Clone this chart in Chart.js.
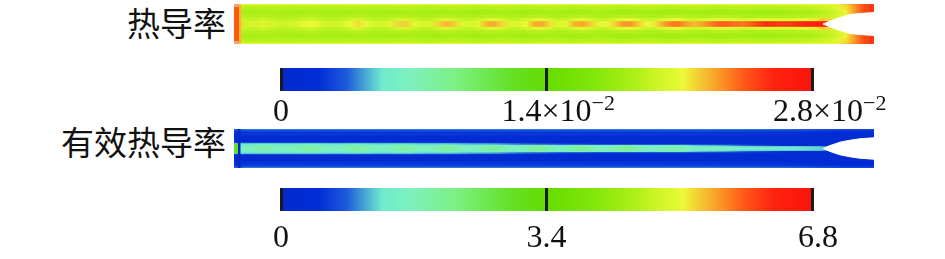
<!DOCTYPE html>
<html>
<head>
<meta charset="utf-8">
<script src="https://cdn.jsdelivr.net/npm/chart.js@4"></script>
<style>
  html, body { margin: 0; padding: 0; background: #fff; }
  body { position: relative; width: 945px; height: 259px; overflow: hidden; }
  canvas { position: absolute; }
  .field { filter: blur(0.6px); }
  .name { position: absolute; right: 719px; font: 33px "Noto Sans CJK SC", serif; line-height: 40px; color: #111; white-space: nowrap; }
</style>
</head>
<body>
<div class="name" style="top:2px">热导率</div>
<div class="name" style="top:121px">有效热导率</div>
<canvas id="fieldOne" style="left:234px;top:4px"></canvas>
<canvas id="barOne" style="left:0;top:60px"></canvas>
<canvas id="fieldTwo" style="left:234px;top:129px"></canvas>
<canvas id="barTwo" style="left:0;top:180px"></canvas>
<script>
// colour bar, position 0-1 along the bar
const barPositions = [0, 0.07, 0.124, 0.19, 0.243, 0.33, 0.43, 0.5, 0.588, 0.67, 0.714, 0.757, 0.789, 0.82, 0.87, 0.926, 1];
const barColors = [
  [5, 40, 205], [0, 45, 215], [30, 90, 220], [110, 235, 205], [125, 240, 190], [125, 240, 130],
  [100, 225, 40], [100, 220, 0], [130, 230, 10], [175, 240, 25], [210, 245, 40], [235, 250, 55],
  [245, 200, 50], [250, 160, 40], [255, 90, 25], [255, 35, 15], [250, 20, 10]
];

const maxOne = 2.8;
const maxTwo = 6.8;
const ticksOne = [0, 1.4, 2.8];
const ticksTwo = [0, 3.4, 6.8];
const labelsOne = ["0", "1.4×10", "2.8×10"];
const labelsTwo = ["0", "3.4", "6.8"];
const powerOne = ["", "−2", "−2"];
const powerTwo = ["", "", ""];

// column centres along the channel, 640 wide
const columns = [
  4, 12, 20, 28, 36, 44, 52, 60, 68, 76, 84, 92, 100, 108, 116, 124, 132, 140, 148, 156,
  164, 172, 180, 188, 196, 204, 212, 220, 228, 236, 244, 252, 260, 268, 276, 284, 292, 300, 308, 316,
  324, 332, 340, 348, 356, 364, 372, 380, 388, 396, 404, 412, 420, 428, 436, 444, 452, 460, 468, 476,
  484, 492, 500, 508, 516, 524, 532, 540, 548, 556, 564, 572, 580, 588, 596, 604, 612, 620, 628, 636
];

// thermal conductivity, units of 1e-2, rows from the centre line out to the wall
const rowEdgesOne = [0, 2.5, 5.5, 9, 14, 18, 20];
const oneCenter = [
  2.2, 2.0, 2.02, 2.05, 2.02, 1.98, 1.98, 2.0, 2.08, 2.12,
  2.06, 2.0, 1.98, 2.02, 2.12, 2.17, 2.1, 2.01, 2.0, 2.06,
  2.18, 2.2, 2.08, 2.01, 2.03, 2.18, 2.25, 2.2, 2.06, 2.02,
  2.08, 2.24, 2.28, 2.18, 2.04, 2.04, 2.12, 2.26, 2.28, 2.16,
  2.04, 2.08, 2.25, 2.29, 2.2, 2.08, 2.1, 2.18, 2.3, 2.32,
  2.22, 2.12, 2.14, 2.26, 2.36, 2.38, 2.3, 2.24, 2.28, 2.36,
  2.42, 2.44, 2.4, 2.38, 2.42, 2.5, 2.56, 2.54, 2.52, 2.53,
  2.56, 2.6, 2.62, 2.65, 2.6, 2.4, 2.3, 2.2, 2.2, 2.2
];
const oneInner = [
  1.98, 1.94, 1.95, 1.98, 1.96, 1.93, 1.93, 1.94, 1.97, 2.0,
  1.97, 1.93, 1.92, 1.94, 1.99, 2.02, 1.97, 1.93, 1.93, 1.96,
  2.02, 2.03, 1.97, 1.93, 1.94, 2.01, 2.05, 2.02, 1.95, 1.94,
  1.97, 2.05, 2.07, 2.01, 1.95, 1.95, 1.99, 2.07, 2.08, 2.01,
  1.95, 1.97, 2.05, 2.08, 2.03, 1.96, 1.97, 2.01, 2.08, 2.1,
  2.03, 1.97, 1.98, 2.03, 2.1, 2.12, 2.05, 2.0, 2.01, 2.05,
  2.08, 2.1, 2.06, 2.02, 2.03, 2.06, 2.08, 2.07, 2.06, 2.06,
  2.08, 2.1, 2.14, 2.2, 2.18, 2.12, 2.08, 2.06, 2.1, 2.2
];
const oneMiddle = [
  1.92, 1.89, 1.89, 1.9, 1.89, 1.88, 1.88, 1.88, 1.89, 1.9,
  1.89, 1.88, 1.88, 1.88, 1.89, 1.9, 1.89, 1.88, 1.87, 1.88,
  1.89, 1.9, 1.89, 1.87, 1.87, 1.88, 1.9, 1.89, 1.87, 1.87,
  1.88, 1.9, 1.9, 1.89, 1.87, 1.87, 1.88, 1.9, 1.91, 1.89,
  1.87, 1.87, 1.89, 1.91, 1.9, 1.87, 1.87, 1.88, 1.9, 1.91,
  1.89, 1.87, 1.87, 1.88, 1.9, 1.91, 1.89, 1.87, 1.87, 1.88,
  1.89, 1.9, 1.89, 1.87, 1.86, 1.87, 1.88, 1.88, 1.88, 1.88,
  1.89, 1.9, 1.92, 1.95, 1.97, 2.02, 2.12, 2.26, 2.36, 2.46
];
const oneOuter = [
  1.88, 1.84, 1.84, 1.85, 1.86, 1.85, 1.84, 1.83, 1.84, 1.85,
  1.85, 1.84, 1.83, 1.83, 1.84, 1.85, 1.85, 1.84, 1.82, 1.82,
  1.84, 1.85, 1.85, 1.83, 1.82, 1.82, 1.84, 1.85, 1.84, 1.82,
  1.81, 1.82, 1.84, 1.85, 1.84, 1.82, 1.81, 1.82, 1.84, 1.85,
  1.84, 1.82, 1.81, 1.82, 1.84, 1.85, 1.84, 1.82, 1.81, 1.81,
  1.83, 1.84, 1.83, 1.81, 1.8, 1.81, 1.83, 1.84, 1.83, 1.81,
  1.8, 1.81, 1.82, 1.83, 1.82, 1.8, 1.8, 1.81, 1.82, 1.83,
  1.84, 1.85, 1.87, 1.9, 1.94, 2.02, 2.14, 2.3, 2.44, 2.54
];
const oneUpper = [
  1.94, 1.9, 1.9, 1.91, 1.91, 1.91, 1.9, 1.9, 1.91, 1.91,
  1.91, 1.9, 1.9, 1.9, 1.91, 1.91, 1.91, 1.9, 1.9, 1.9,
  1.91, 1.92, 1.91, 1.9, 1.89, 1.9, 1.91, 1.92, 1.91, 1.9,
  1.89, 1.9, 1.91, 1.92, 1.91, 1.9, 1.89, 1.9, 1.91, 1.92,
  1.91, 1.9, 1.89, 1.9, 1.91, 1.92, 1.91, 1.9, 1.89, 1.9,
  1.91, 1.92, 1.91, 1.9, 1.89, 1.9, 1.91, 1.92, 1.91, 1.9,
  1.89, 1.9, 1.91, 1.92, 1.91, 1.9, 1.9, 1.9, 1.91, 1.92,
  1.92, 1.93, 1.95, 1.98, 2.0, 2.06, 2.16, 2.3, 2.44, 2.54
];
const oneEdge = [
  2.1, 2.04, 2.03, 2.03, 2.04, 2.04, 2.03, 2.03, 2.04, 2.04,
  2.03, 2.03, 2.02, 2.03, 2.04, 2.04, 2.03, 2.03, 2.02, 2.03,
  2.04, 2.04, 2.03, 2.02, 2.02, 2.03, 2.04, 2.04, 2.03, 2.02,
  2.02, 2.03, 2.04, 2.04, 2.03, 2.02, 2.02, 2.03, 2.04, 2.04,
  2.03, 2.02, 2.02, 2.03, 2.04, 2.04, 2.03, 2.02, 2.02, 2.03,
  2.04, 2.04, 2.03, 2.02, 2.02, 2.03, 2.04, 2.04, 2.03, 2.02,
  2.02, 2.03, 2.04, 2.04, 2.03, 2.02, 2.02, 2.03, 2.04, 2.04,
  2.04, 2.05, 2.06, 2.07, 2.1, 2.14, 2.2, 2.32, 2.44, 2.52
];
const rowsOne = [oneCenter, oneInner, oneMiddle, oneOuter, oneUpper, oneEdge];

// effective thermal conductivity
const rowEdgesTwo = [0, 2, 3.5, 5, 6, 13, 17, 19, 20];
const twoCenter = [
  1.6, 1.55, 1.72, 1.88, 1.75, 1.6, 1.6, 1.68, 1.88, 1.98,
  1.8, 1.62, 1.6, 1.68, 1.88, 1.98, 1.8, 1.62, 1.6, 1.72,
  1.92, 1.98, 1.8, 1.62, 1.64, 1.88, 2.02, 1.92, 1.7, 1.62,
  1.72, 1.98, 2.05, 1.85, 1.64, 1.64, 1.8, 2.04, 2.06, 1.82,
  1.64, 1.7, 2.0, 2.1, 1.9, 1.66, 1.68, 1.86, 2.05, 2.08,
  1.82, 1.62, 1.62, 1.72, 1.88, 1.88, 1.68, 1.55, 1.5, 1.55,
  1.6, 1.6, 1.5, 1.42, 1.4, 1.42, 1.42, 1.38, 1.32, 1.3,
  1.28, 1.26, 1.24, 1.2, 0.8, 0.4, 0.3, 0.3, 0.3, 0.3
];
const twoBand = [
  1.45, 1.42, 1.5, 1.6, 1.55, 1.45, 1.45, 1.48, 1.58, 1.62,
  1.52, 1.44, 1.43, 1.46, 1.58, 1.62, 1.52, 1.44, 1.43, 1.48,
  1.58, 1.62, 1.52, 1.44, 1.44, 1.55, 1.62, 1.58, 1.46, 1.42,
  1.45, 1.58, 1.6, 1.5, 1.42, 1.42, 1.48, 1.58, 1.6, 1.48,
  1.4, 1.42, 1.52, 1.58, 1.48, 1.38, 1.38, 1.45, 1.52, 1.52,
  1.4, 1.3, 1.28, 1.32, 1.36, 1.36, 1.28, 1.2, 1.15, 1.12,
  1.1, 1.05, 0.98, 0.9, 0.85, 0.8, 0.72, 0.62, 0.52, 0.46,
  0.42, 0.38, 0.35, 0.32, 0.3, 0.3, 0.3, 0.3, 0.3, 0.3
];
const twoRim = [
  1.3, 1.28, 1.3, 1.32, 1.32, 1.3, 1.28, 1.28, 1.3, 1.32,
  1.3, 1.28, 1.27, 1.27, 1.3, 1.3, 1.28, 1.26, 1.25, 1.26,
  1.28, 1.28, 1.26, 1.24, 1.22, 1.24, 1.24, 1.22, 1.18, 1.14,
  1.12, 1.12, 1.1, 1.04, 0.98, 0.92, 0.88, 0.85, 0.8, 0.72,
  0.65, 0.6, 0.58, 0.56, 0.5, 0.44, 0.4, 0.38, 0.36, 0.35,
  0.32, 0.3, 0.3, 0.29, 0.29, 0.29, 0.28, 0.28, 0.28, 0.28,
  0.28, 0.28, 0.28, 0.28, 0.28, 0.28, 0.28, 0.28, 0.28, 0.28,
  0.28, 0.28, 0.28, 0.28, 0.28, 0.28, 0.28, 0.28, 0.28, 0.28
];
const twoEdge = [
  0.8, 0.8, 0.8, 0.82, 0.82, 0.8, 0.8, 0.8, 0.8, 0.82,
  0.8, 0.78, 0.78, 0.78, 0.8, 0.8, 0.78, 0.76, 0.76, 0.76,
  0.76, 0.76, 0.74, 0.72, 0.7, 0.7, 0.7, 0.68, 0.66, 0.62,
  0.6, 0.58, 0.56, 0.52, 0.5, 0.46, 0.44, 0.42, 0.4, 0.38,
  0.36, 0.34, 0.33, 0.32, 0.31, 0.3, 0.3, 0.29, 0.29, 0.28,
  0.28, 0.28, 0.28, 0.28, 0.28, 0.28, 0.28, 0.28, 0.28, 0.28,
  0.28, 0.28, 0.28, 0.28, 0.28, 0.28, 0.28, 0.28, 0.28, 0.28,
  0.28, 0.28, 0.28, 0.28, 0.28, 0.28, 0.28, 0.28, 0.28, 0.28
];
const twoDark = [
  0.3, 0.26, 0.26, 0.26, 0.26, 0.26, 0.26, 0.26, 0.26, 0.26,
  0.26, 0.26, 0.26, 0.26, 0.26, 0.26, 0.26, 0.26, 0.26, 0.26,
  0.26, 0.26, 0.26, 0.26, 0.26, 0.26, 0.26, 0.26, 0.26, 0.26,
  0.26, 0.26, 0.26, 0.26, 0.26, 0.26, 0.26, 0.26, 0.26, 0.26,
  0.26, 0.26, 0.26, 0.26, 0.26, 0.26, 0.26, 0.26, 0.26, 0.26,
  0.26, 0.26, 0.26, 0.26, 0.26, 0.26, 0.26, 0.26, 0.26, 0.26,
  0.26, 0.26, 0.26, 0.26, 0.26, 0.26, 0.26, 0.26, 0.26, 0.26,
  0.26, 0.26, 0.26, 0.26, 0.26, 0.26, 0.26, 0.26, 0.28, 0.3
];
const twoOuter = [
  0.5, 0.55, 0.56, 0.56, 0.55, 0.55, 0.56, 0.56, 0.56, 0.55,
  0.55, 0.56, 0.56, 0.56, 0.55, 0.55, 0.56, 0.56, 0.56, 0.55,
  0.55, 0.56, 0.56, 0.56, 0.55, 0.55, 0.56, 0.56, 0.56, 0.55,
  0.55, 0.56, 0.56, 0.56, 0.55, 0.55, 0.56, 0.56, 0.56, 0.55,
  0.55, 0.56, 0.56, 0.56, 0.55, 0.55, 0.56, 0.56, 0.56, 0.55,
  0.55, 0.56, 0.56, 0.56, 0.55, 0.55, 0.56, 0.56, 0.56, 0.55,
  0.55, 0.54, 0.54, 0.54, 0.53, 0.53, 0.52, 0.52, 0.52, 0.5,
  0.5, 0.48, 0.46, 0.44, 0.42, 0.4, 0.38, 0.36, 0.36, 0.36
];
const twoWall = [
  0.7, 0.74, 0.75, 0.75, 0.75, 0.74, 0.74, 0.75, 0.75, 0.75,
  0.74, 0.74, 0.75, 0.75, 0.75, 0.74, 0.74, 0.75, 0.75, 0.75,
  0.74, 0.74, 0.75, 0.75, 0.75, 0.74, 0.74, 0.75, 0.75, 0.75,
  0.74, 0.74, 0.75, 0.75, 0.75, 0.74, 0.74, 0.75, 0.75, 0.75,
  0.74, 0.74, 0.75, 0.75, 0.75, 0.74, 0.74, 0.75, 0.75, 0.75,
  0.74, 0.74, 0.75, 0.75, 0.75, 0.74, 0.74, 0.75, 0.75, 0.75,
  0.74, 0.74, 0.73, 0.73, 0.72, 0.72, 0.7, 0.7, 0.7, 0.68,
  0.68, 0.66, 0.64, 0.62, 0.6, 0.58, 0.56, 0.55, 0.55, 0.55
];
const twoTop = [
  0.9, 1.0, 1.02, 1.02, 1.02, 1.02, 1.02, 1.02, 1.02, 1.02,
  1.02, 1.02, 1.02, 1.02, 1.02, 1.02, 1.02, 1.02, 1.02, 1.02,
  1.02, 1.02, 1.02, 1.02, 1.02, 1.02, 1.02, 1.02, 1.02, 1.02,
  1.02, 1.02, 1.02, 1.02, 1.02, 1.02, 1.02, 1.02, 1.02, 1.02,
  1.02, 1.02, 1.02, 1.02, 1.02, 1.02, 1.02, 1.02, 1.02, 1.02,
  1.02, 1.02, 1.02, 1.02, 1.02, 1.02, 1.02, 1.02, 1.02, 1.02,
  1.0, 1.0, 1.0, 1.0, 0.98, 0.98, 0.96, 0.96, 0.94, 0.94,
  0.92, 0.9, 0.88, 0.86, 0.84, 0.82, 0.8, 0.8, 0.8, 0.8
];
const rowsTwo = [twoCenter, twoBand, twoRim, twoEdge, twoDark, twoOuter, twoWall, twoTop];

// the open tip at the right hand end, half height against x
const notchX = [589, 596, 606, 616, 626, 640];
const notchOneHalf = [0, 3, 6.5, 9.5, 10.5, 11.5];
const notchTwoHalf = [0, 3, 6.5, 8.5, 10, 11];

// end cap at the inlet
const capOneY = [-17, 17];
const capOneCorner = [-20, 20];
const capTwoY = [-5, 5];
const capTwoStrip = [-20, 20];

function colorAt(t) {
  let i = 0;
  while (i < barPositions.length - 2 && t > barPositions[i + 1]) i++;
  const f = Math.min(1, Math.max(0, (t - barPositions[i]) / (barPositions[i + 1] - barPositions[i])));
  const a = barColors[i], b = barColors[i + 1];
  return `rgb(${a.map((c, k) => Math.round(c + (b[k] - c) * f)).join(",")})`;
}

function rowGradient(chart, values, max) {
  if (!chart.chartArea) return colorAt(values[0] / max);
  if (values.gradient) return values.gradient;
  const x = chart.scales.x;
  const g = chart.ctx.createLinearGradient(x.left, 0, x.right, 0);
  values.forEach((v, i) => g.addColorStop(columns[i] / 640, colorAt(v / max)));
  values.gradient = g;
  return g;
}

function rowDatasets(rows, edges, max) {
  const sets = [];
  rows.forEach((values, r) => {
    [1, -1].forEach(side => {
      const low = edges[r] * side, high = edges[r + 1] * side;
      sets.push({
        type: "bar",
        order: 5,
        data: columns.map(c => ({ x: c, y: [low, high] })),
        backgroundColor: ctx => rowGradient(ctx.chart, values, max),
        borderWidth: 0,
        grouped: false,
        barPercentage: 1,
        categoryPercentage: 1
      });
    });
  });
  return sets;
}

function notchDatasets(half) {
  const edge = side => ({
    type: "line",
    order: 1,
    data: notchX.map((x, i) => ({ x, y: half[i] * side })),
    borderColor: "#fff",
    borderWidth: 1,
    pointRadius: 0,
    backgroundColor: "#fff",
    clip: false
  });
  const top = edge(1);
  top.fill = "+1";
  return [top, edge(-1)];
}

function capLine(x, ys, color, width) {
  return {
    type: "line",
    order: 2,
    data: ys.map(y => ({ x, y })),
    borderColor: color,
    borderWidth: width,
    pointRadius: 0,
    clip: false
  };
}

function drawField(id, height, rows, edges, max, half, caps) {
  const canvas = document.getElementById(id);
  canvas.width = 640;
  canvas.height = height;
  new Chart(canvas, {
    type: "bar",
    data: { datasets: rowDatasets(rows, edges, max).concat(caps, notchDatasets(half)) },
    options: {
      responsive: false,
      animation: false,
      layout: { padding: 0 },
      plugins: { legend: { display: false }, tooltip: { enabled: false } },
      scales: {
        x: { type: "linear", min: 0, max: 640, offset: false, display: false },
        y: { type: "linear", min: -20, max: 20, display: false }
      }
    }
  });
  canvas.classList.add("field");
}

// tick labels with the smaller power of ten next to them
const powerLabels = {
  id: "powerLabels",
  afterDraw(chart, args, opts) {
    const { ctx } = chart;
    const scale = chart.scales.x;
    ctx.save();
    ctx.fillStyle = "#111";
    ctx.textBaseline = "alphabetic";
    opts.ticks.forEach((tick, i) => {
      const shift = i === opts.ticks.length - 1 ? 6 : 0;
      const x = scale.getPixelForValue(tick) + shift;
      ctx.font = '32px "Liberation Serif"';
      ctx.textAlign = "center";
      ctx.fillText(opts.labels[i], x, opts.baseline);
      if (opts.powers[i]) {
        const w = ctx.measureText(opts.labels[i]).width;
        ctx.font = '22px "Liberation Serif"';
        ctx.textAlign = "left";
        ctx.fillText(opts.powers[i], x + w / 2, opts.baseline - 11);
      }
    });
    ctx.restore();
  }
};

function drawBar(id, max, ticks, labels, powers, baseline) {
  const canvas = document.getElementById(id);
  canvas.width = 945;
  canvas.height = 70;
  new Chart(canvas, {
    type: "bar",
    data: {
      labels: [""],
      datasets: [{
        data: [[0, max]],
        backgroundColor: ctx => {
          const { chart } = ctx;
          if (!chart.chartArea) return colorAt(0);
          const g = chart.ctx.createLinearGradient(chart.chartArea.left, 0, chart.chartArea.right, 0);
          barPositions.forEach((p, i) => g.addColorStop(p, `rgb(${barColors[i].join(",")})`));
          return g;
        },
        borderWidth: 0,
        barPercentage: 1,
        categoryPercentage: 1
      }]
    },
    options: {
      indexAxis: "y",
      responsive: false,
      animation: false,
      layout: { padding: { left: 281, right: 133, top: 8, bottom: 39 } },
      plugins: {
        legend: { display: false },
        tooltip: { enabled: false },
        powerLabels: { ticks, labels, powers, baseline }
      },
      scales: {
        x: {
          type: "linear",
          min: 0,
          max,
          afterBuildTicks: axis => { axis.ticks = ticks.map(value => ({ value })); },
          ticks: { display: false },
          border: { display: false },
          grid: { z: 1, color: "#1a1a1a", lineWidth: 3, drawTicks: false }
        },
        y: { display: false }
      }
    },
    plugins: [powerLabels]
  });
}

// first dataset in the list is painted on top
drawField("fieldOne", 40, rowsOne, rowEdgesOne, maxOne, notchOneHalf, [
  capLine(2.5, capOneY, "#ff5a14", 5),
  capLine(2.5, capOneCorner, "#ff9a70", 5),
  capLine(6, capOneCorner, "#ffb040", 2)
]);
drawField("fieldTwo", 39, rowsTwo, rowEdgesTwo, maxTwo, notchTwoHalf, [
  capLine(2, capTwoY, "#64e028", 4),
  capLine(5, capTwoStrip, "#0528c4", 3)
]);
drawBar("barOne", maxOne, ticksOne, labelsOne, powerOne, 60.5);
drawBar("barTwo", maxTwo, ticksTwo, labelsTwo, powerTwo, 67);
</script>
</body>
</html>
